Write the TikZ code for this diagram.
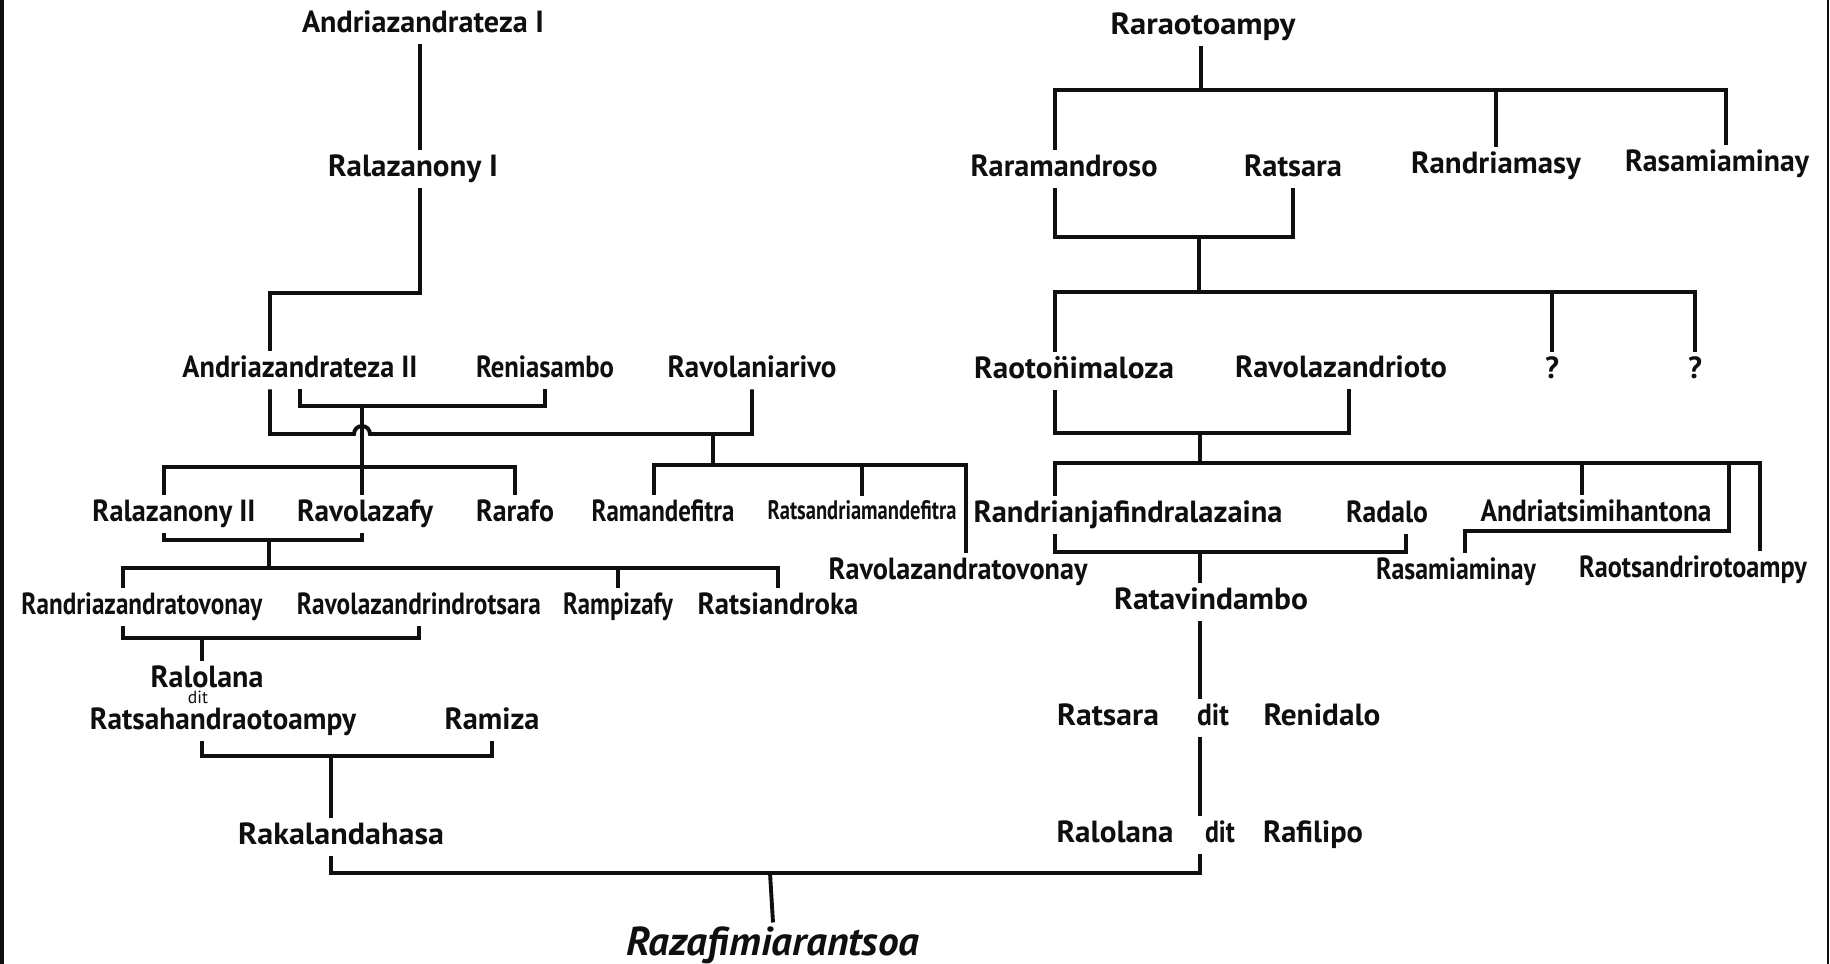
\documentclass[tikz,border=0pt]{standalone}
\usepackage{fontspec}
\setmainfont{PT Sans}
\usepackage{graphicx}
\usepackage{tikz}
\usetikzlibrary{calc}
\definecolor{ink}{RGB}{15,15,15}
% set a name to the width it has in the drawing (in px of 0.01cm)
\newcommand{\fitname}[2]{\resizebox{\dimexpr0.01cm*#1\relax}{\height}{#2}}
\tikzset{
  person/.style={inner sep=1.2pt, text height=6.2pt, text depth=2pt,
    font=\bfseries\fontsize{8.7}{10}\selectfont, text=ink},
  cramped/.style={person, text height=5.4pt, font=\bfseries\fontsize{7.6}{9}\selectfont},
  ditsmall/.style={inner sep=0.3pt, font=\fontsize{5}{5.5}\selectfont, text=ink},
  heir/.style={inner sep=1.2pt, text height=8pt, text depth=2pt,
    font=\bfseries\itshape\fontsize{11.5}{13}\selectfont, text=ink},
  line/.style={line width=1.1pt, color=ink},
  frame/.style={color=ink}
}

\begin{document}
\begin{tikzpicture}[x=0.01cm, y=-0.01cm]
  \useasboundingbox (0,0) rectangle (1830,964);
  \draw[frame, line width=0.9pt] (2,0) -- (2,964);
  \draw[frame, line width=0.45pt] (1828,0) -- (1828,964);

  % left line
  \node[person] (az1) at (423,25) {\fitname{242}{Andriazandrateza I}};
  \node[person] (ral1) at (413,169) {\fitname{170}{Ralazanony I}};
  \node[person] (az2) at (300,370) {\fitname{235}{Andriazandrateza II}};
  \node[person] (reni) at (545,370) {\fitname{138}{Reniasambo}};
  \node[person] (ravn) at (752,370) {\fitname{169}{Ravolaniarivo}};
  \node[person] (ral2) at (174,514) {\fitname{163}{Ralazanony II}};
  \node[person] (ravz) at (365,514) {\fitname{136}{Ravolazafy}};
  \node[person] (rarafo) at (515,514) {\fitname{78}{Rarafo}};
  \node[person] (raman) at (663,514) {\fitname{143}{Ramandefitra}};
  \node[cramped] (ratsm) at (862,514) {\fitname{189}{Ratsandriamandefitra}};
  \node[person] (ravt) at (958,572) {\fitname{259}{Ravolazandratovonay}};
  \node[person] (randz) at (142,607) {\fitname{241}{Randriazandratovonay}};
  \node[person] (ravd) at (419,607) {\fitname{244}{Ravolazandrindrotsara}};
  \node[person] (ramp) at (618,607) {\fitname{110}{Rampizafy}};
  \node[person] (ratsi) at (778,607) {\fitname{161}{Ratsiandroka}};
  \node[person] (ralo) at (207,680) {\fitname{113}{Ralolana}};
  \node[ditsmall] (dit1) at (198,697) {dit};
  \node[person] (ratsh) at (223,722) {\fitname{266}{Ratsahandraotoampy}};
  \node[person] (ramiza) at (492,722) {\fitname{95}{Ramiza}};
  \node[person] (rakal) at (341,837) {\fitname{206}{Rakalandahasa}};
  \node[heir] (raza) at (773,945) {\fitname{293}{Razafimiarantsoa}};

  % right line
  \node[person] (rara) at (1203,27) {\fitname{185}{Raraotoampy}};
  \node[person] (raram) at (1064,169) {\fitname{187}{Raramandroso}};
  \node[person] (ratsa) at (1293,169) {\fitname{98}{Ratsara}};
  \node[person] (randm) at (1496,166) {\fitname{170}{Randriamasy}};
  \node[person] (rasa1) at (1717,164) {\fitname{184}{Rasamiaminay}};
  \node[person] (raoto) at (1074,371) {\fitname{200}{Raoto\accent"A8 nimaloza}};
  \node[person] (ravol) at (1341,370) {\fitname{212}{Ravolazandrioto}};
  \node[person] (q1) at (1552,371) {?};
  \node[person] (q2) at (1695,371) {?};
  \node[person] (randj) at (1128,515) {\fitname{309}{Randrianjafindralazaina}};
  \node[person] (radalo) at (1387,515) {\fitname{82}{Radalo}};
  \node[person] (andt) at (1596,514) {\fitname{231}{Andriatsimihantona}};
  \node[person] (rasa2) at (1456,572) {\fitname{160}{Rasamiaminay}};
  \node[person] (raots) at (1693,570) {\fitname{228}{Raotsandrirotoampy}};
  \node[person] (ratav) at (1211,602) {\fitname{194}{Ratavindambo}};
  \node[person] (ratsa2) at (1108,718) {\fitname{102}{Ratsara}};
  \node[person] (dit2) at (1213,718) {\fitname{32}{dit}};
  \node[person] (renid) at (1322,718) {\fitname{117}{Renidalo}};
  \node[person] (ralol2) at (1115,835) {\fitname{117}{Ralolana}};
  \node[person] (dit3) at (1220,835) {\fitname{30}{dit}};
  \node[person] (rafil) at (1313,835) {\fitname{100}{Rafilipo}};

  % junctions
  \coordinate (tA) at (420,0);
  \coordinate (kA) at (270,293);
  \coordinate (cA) at (270,434);
  \coordinate (hop) at (362,434);
  \coordinate (gA) at (713,434);
  \coordinate (cB) at (362,406);
  \coordinate (sB) at (362,467);
  \coordinate (tB) at (164,0);
  \coordinate (cC) at (269,540);
  \coordinate (sC) at (269,568);
  \coordinate (tC) at (123,0);
  \coordinate (cD) at (202,638);
  \coordinate (cE) at (331,756);
  \coordinate (cF) at (770,873);
  \coordinate (sG) at (713,465);
  \coordinate (tE) at (654,0);
  \coordinate (tG) at (966,0);
  \coordinate (sp) at (1055,0);
  \coordinate (sR1) at (1201,90);
  \coordinate (tH) at (1726,0);
  \coordinate (cR1) at (1199,237);
  \coordinate (sR2) at (1199,292);
  \coordinate (cR2) at (1200,433);
  \coordinate (tI) at (1349,0);
  \coordinate (sR3) at (1200,463);
  \coordinate (eR3) at (1760,463);
  \coordinate (tJ) at (1582,0);
  \coordinate (kR) at (1729,531);
  \coordinate (tK) at (1465,0);
  \coordinate (cR3) at (1200,552);
  \coordinate (tL) at (1406,0);
  \coordinate (tR) at (1200,0);

  % left connectors
  \draw[line] (az1.south -| tA) -- (ral1.north -| tA);
  \draw[line] (ral1.south -| tA) |- (kA) -- (az2.north -| kA);
  \draw[line] (az2.south -| cA) -- (cA) -- ($(hop)+(-8,0)$)
    arc[start angle=180, end angle=0, radius=0.08cm] -- (ravn.south |- cA) -- (ravn.south);
  \draw[line] (az2.south) |- (cB) -| (reni.south);
  \draw[line] (cB) -- (ravz.north -| cB);
  \draw[line] (ral2.north -| tB) |- (sB) -| (rarafo.north);
  \draw[line] (ral2.south -| tB) |- (cC) -| (ravz.south -| cB);
  \draw[line] (cC) -- (sC);
  \draw[line] (randz.north -| tC) |- (sC) -| (ratsi.north);
  \draw[line] (ramp.north |- sC) -- (ramp.north);
  \draw[line] (randz.south -| tC) |- (cD) -| (ravd.south);
  \draw[line] (cD) -- (ralo.north -| cD);
  \draw[line] (ratsh.south -| cD) |- (cE) -| (ramiza.south);
  \draw[line] (cE) -- (rakal.north -| cE);
  \draw[line] (gA) -- (sG);
  \draw[line] (raman.north -| tE) |- (sG) -| (ravt.north -| tG);
  \draw[line] (ratsm.north |- sG) -- (ratsm.north);

  % right connectors
  \draw[line] (rara.south -| sR1) -- (sR1);
  \draw[line] (raram.north -| sp) |- (sR1) -| (rasa1.north -| tH);
  \draw[line] (randm.north |- sR1) -- (randm.north);
  \draw[line] (raram.south -| sp) |- (cR1) -| (ratsa.south);
  \draw[line] (cR1) -- (sR2);
  \draw[line] (raoto.north -| sp) |- (sR2) -| (q2.north);
  \draw[line] (q1.north |- sR2) -- (q1.north);
  \draw[line] (raoto.south -| sp) |- (cR2) -| (ravol.south -| tI);
  \draw[line] (cR2) -- (sR3);
  \draw[line] (randj.north -| sp) |- (eR3) -- (raots.north -| eR3);
  \draw[line] (tJ |- sR3) -- (andt.north -| tJ);
  \draw[line] (kR |- sR3) -- (kR) -| (rasa2.north -| tK);
  \draw[line] (randj.south -| sp) |- (cR3) -| (radalo.south -| tL);
  \draw[line] (cR3) -- (ratav.north -| cR3);
  \draw[line] (ratav.south -| tR) -- (dit2.north -| tR);
  \draw[line] (dit2.south -| tR) -- (dit3.north -| tR);

  % down to the heir
  \draw[line] (rakal.south -| cE) |- (cF) -| (dit3.south -| tR);
  \draw[line] (cF) -- (raza.north);
\end{tikzpicture}
\end{document}
